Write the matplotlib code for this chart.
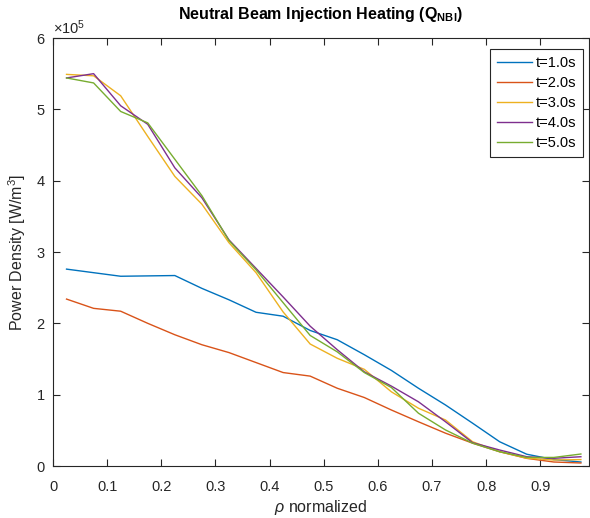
import numpy as np
import matplotlib
matplotlib.use('Agg')
from matplotlib import pyplot as plt

plt.rcParams['font.family'] = ['Liberation Sans', 'DejaVu Sans']
plt.rcParams['mathtext.fontset'] = 'custom'
plt.rcParams['mathtext.rm'] = 'Liberation Sans'
plt.rcParams['mathtext.it'] = 'Liberation Sans:italic'
plt.rcParams['mathtext.bf'] = 'Liberation Sans:bold'

# rho grid (cell centres)
rho = [0.025, 0.075, 0.125, 0.175, 0.225, 0.275, 0.325, 0.375, 0.425, 0.475,
       0.525, 0.575, 0.625, 0.675, 0.725, 0.775, 0.825, 0.875, 0.925, 0.975]

# power density in units of 1e5 W/m^3
q_t1 = [2.76, 2.71, 2.66, 2.665, 2.67, 2.49, 2.33, 2.155, 2.10, 1.90,
        1.77, 1.56, 1.34, 1.09, 0.855, 0.60, 0.34, 0.165, 0.09, 0.056]
q_t2 = [2.34, 2.21, 2.17, 2.00, 1.84, 1.70, 1.59, 1.45, 1.31, 1.26,
        1.09, 0.96, 0.785, 0.62, 0.46, 0.32, 0.20, 0.107, 0.056, 0.042]
q_t3 = [5.49, 5.47, 5.19, 4.62, 4.06, 3.67, 3.13, 2.71, 2.16, 1.71,
        1.51, 1.355, 1.04, 0.81, 0.645, 0.34, 0.20, 0.11, 0.084, 0.09]
q_t4 = [5.44, 5.50, 5.05, 4.79, 4.18, 3.76, 3.17, 2.77, 2.37, 1.96,
        1.63, 1.32, 1.12, 0.90, 0.62, 0.327, 0.224, 0.13, 0.108, 0.13]
q_t5 = [5.44, 5.37, 4.97, 4.81, 4.30, 3.79, 3.16, 2.75, 2.29, 1.83,
        1.60, 1.31, 1.10, 0.74, 0.505, 0.32, 0.20, 0.12, 0.12, 0.168]

labels = ['t=1.0s', 't=2.0s', 't=3.0s', 't=4.0s', 't=5.0s']
series = [q_t1, q_t2, q_t3, q_t4, q_t5]
colors = ['#0072BD', '#D95319', '#EDB120', '#7E2F8E', '#77AC30']

fig = plt.figure(figsize=(5.9, 5.18), dpi=100)
ax = fig.add_axes([53/590, 1 - 466/518, 536/590, 428/518])

for q, lab, c in zip(series, labels, colors):
    ax.plot(rho, np.array(q) * 1e5, color=c, lw=1.0, label=lab)

ax.set_xlim(0, 0.99)
ax.set_ylim(0, 6e5)
ax.set_xticks(np.arange(0, 1.0, 0.1))
ax.set_xticklabels(['0', '0.1', '0.2', '0.3', '0.4', '0.5', '0.6', '0.7', '0.8', '0.9'])
ax.set_yticks(np.arange(0, 7) * 1e5)
ax.set_yticklabels([str(i) for i in range(7)])

axcol = '#262626'
for s in ax.spines.values():
    s.set_color(axcol)
    s.set_linewidth(0.8)
ax.tick_params(direction='in', top=True, right=True, length=5, width=0.8,
               colors=axcol, labelsize=10.5)
ax.tick_params(axis='x', pad=10)
ax.tick_params(axis='y', pad=6)

ax.text(0, 1.003, r'$\times10^{5}$', transform=ax.transAxes, fontsize=10.5,
        color=axcol, ha='left', va='bottom')

ax.set_xlabel(r'$\rho$ normalized', fontsize=11.5, color=axcol, labelpad=3)
ax.set_ylabel(r'Power Density [W/m$^3$]', fontsize=11.5, color=axcol, labelpad=6)
ax.set_title(r'Neutral Beam Injection Heating (Q$_{\mathbf{NBI}}$)',
             fontsize=11.5, fontweight='bold', pad=14)

leg = ax.legend(loc='upper right', bbox_to_anchor=(0.989, 0.974), borderaxespad=0,
                fontsize=10.5, frameon=True, fancybox=False, edgecolor=axcol,
                framealpha=1, handlelength=2.4, handletextpad=0.3,
                labelspacing=0.42, borderpad=0.45)
leg.get_frame().set_linewidth(0.8)

fig.savefig('out.png', dpi=100)
